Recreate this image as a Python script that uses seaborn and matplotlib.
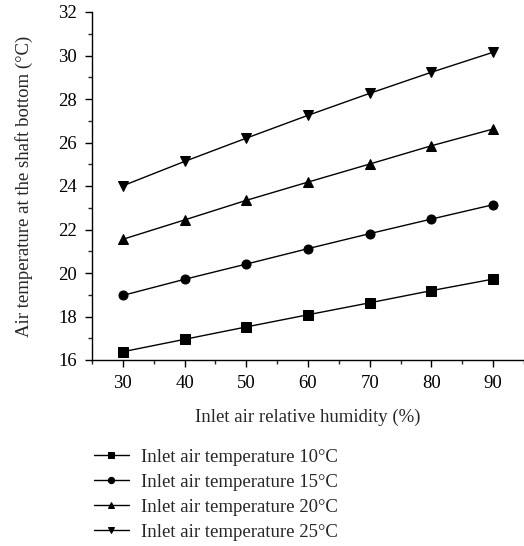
import numpy as np
import pandas as pd
import matplotlib
matplotlib.use("Agg")
import matplotlib.pyplot as plt
import seaborn as sns
from matplotlib.ticker import MultipleLocator

sns.set_style("ticks")
plt.rcParams['font.family'] = ['Liberation Serif', 'DejaVu Serif']
plt.rcParams['mathtext.fontset'] = 'stix'

humidity = [30, 40, 50, 60, 70, 80, 90]
t10 = [16.38, 16.95, 17.52, 18.08, 18.63, 19.19, 19.72]
t15 = [18.97, 19.71, 20.41, 21.12, 21.81, 22.48, 23.14]
t20 = [21.55, 22.44, 23.34, 24.18, 25.01, 25.85, 26.62]
t25 = [24.01, 25.13, 26.20, 27.25, 28.26, 29.23, 30.15]
series_names = ["Inlet air temperature 10°C", "Inlet air temperature 15°C",
                "Inlet air temperature 20°C", "Inlet air temperature 25°C"]

rows = []
for name, vals in zip(series_names, [t10, t15, t20, t25]):
    for h, v in zip(humidity, vals):
        rows.append({"RH": h, "T": v, "series": name})
df = pd.DataFrame(rows)

fig = plt.figure(figsize=(5.24, 5.46), dpi=100)
ax = fig.add_axes([92/524, 186/546, 1 - 92/524, 348/546])

sns.lineplot(data=df, x="RH", y="T", style="series", markers=['s', 'o', '^', 'v'],
             dashes=False, color='black', linewidth=1.0, markersize=6.5,
             markeredgecolor='black', ax=ax, legend=True)
for ln in ax.get_lines():
    if ln.get_marker() in ('^', 'v'):
        ln.set_markersize(7.5)

ax.set_xlim(25, 95)
ax.set_ylim(16, 32)
ax.xaxis.set_major_locator(MultipleLocator(10))
ax.xaxis.set_minor_locator(MultipleLocator(5))
ax.yaxis.set_major_locator(MultipleLocator(2))
ax.yaxis.set_minor_locator(MultipleLocator(1))
ax.tick_params(which='major', direction='out', length=5, width=1, labelsize=13.5,
               colors='black')
ax.tick_params(axis='x', which='major', pad=6)
ax.tick_params(axis='y', which='major', pad=6)
ax.tick_params(which='minor', direction='out', length=3, width=1)
for s in ['top', 'right']:
    ax.spines[s].set_visible(False)
for s in ['left', 'bottom']:
    ax.spines[s].set_linewidth(1)
    ax.spines[s].set_color('black')

ax.set_xlabel("Inlet air relative humidity (%)", fontsize=13.5, labelpad=12)
ax.set_ylabel("Air temperature at the shaft bottom (°C)", fontsize=13.5, labelpad=18)

handles, labels = ax.get_legend_handles_labels()
ax.legend_.remove()
for h in handles:
    h.set_markersize(4.5)
fig.legend(handles, labels, loc='upper left', bbox_to_anchor=(86/524, 1 - 441/546),
           frameon=False, fontsize=13.5, handlelength=1.9, handletextpad=0.65,
           labelspacing=0.42, borderaxespad=0)

fig.savefig("out.png", dpi=100)
